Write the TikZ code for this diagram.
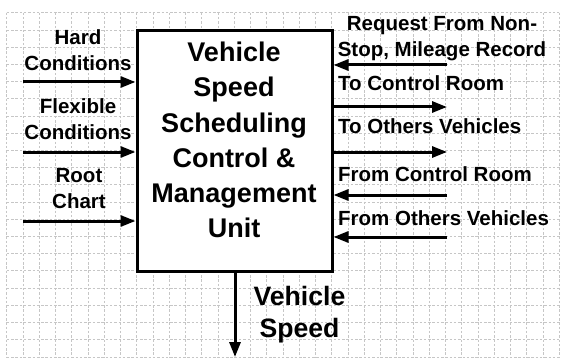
\documentclass[tikz,border=0pt]{standalone}
\usepackage{fontspec}
\setmainfont{Liberation Sans}
\usetikzlibrary{arrows.meta}

\tikzset{
  gridline/.style={gray!45, line width=0.8pt, dash pattern=on 2.5pt off 1.8pt},
  flow/.style={line width=3pt, -{Triangle[length=15pt,width=11pt]}},
  lbl/.style={font=\bfseries\fontsize{20.5}{26}\selectfont, inner sep=0pt, align=center},
  biglbl/.style={font=\bfseries\fontsize{27}{35.3}\selectfont, inner sep=0pt, align=center},
  unitbox/.style={draw, fill=white, line width=3pt, minimum width=195pt, minimum height=240pt, inner sep=0pt}
}

\begin{document}
\begin{tikzpicture}[x=1pt,y=-1pt]
			\useasboundingbox (0,0) rectangle (561,358);
			\foreach \i in {0,...,34}
				\draw[gridline] (6.7+16.25*\i,12.7) -- (6.7+16.25*\i,357);
			\foreach \j in {0,...,20}
				\draw[gridline] (6.7,12.7+17.21*\j) -- (559.2,12.7+17.21*\j);

			\node[unitbox] (unit) at (234.5,151) {};
			\node[biglbl] (unittext) at (234,140) {Vehicle\\Speed\\Scheduling\\Control \&\\Management\\Unit};

			\node[lbl] (hard) at (78,50) {Hard\\Conditions};
			\node[lbl] (flex) at (78,119) {Flexible\\Conditions};
			\node[lbl] (root) at (79,189) {Root\\Chart};
			\coordinate (hardin) at (23,82);
			\coordinate (flexin) at (23,152);
			\coordinate (rootin) at (23,221);
			\draw[flow] (hardin) -- (hardin -| unit.west);
			\draw[flow] (flexin) -- (flexin -| unit.west);
			\draw[flow] (rootin) -- (rootin -| unit.west);

			\node[lbl] (request) at (442,39) {Request From Non-\\Stop, Mileage Record};
			\node[lbl, anchor=base west] (tocr) at (338,91) {To Control Room};
			\node[lbl, anchor=base west] (toov) at (338,133.5) {To Others Vehicles};
			\node[lbl, anchor=base west] (fromcr) at (338,181.5) {From Control Room};
			\node[lbl, anchor=base west] (fromov) at (338,225.5) {From Others Vehicles};
			\coordinate (requestin) at (447,65);
			\coordinate (tocrout) at (447,107);
			\coordinate (toovout) at (447,152);
			\coordinate (fromcrin) at (447,195);
			\coordinate (fromovin) at (447,237);
			\draw[flow] (requestin) -- (requestin -| unit.east);
			\draw[flow] (tocrout -| unit.east) -- (tocrout);
			\draw[flow] (toovout -| unit.east) -- (toovout);
			\draw[flow] (fromcrin) -- (fromcrin -| unit.east);
			\draw[flow] (fromovin) -- (fromovin -| unit.east);

			\coordinate (speedout) at (235,357);
			\draw[flow] (speedout |- unit.south) -- (speedout);
			\node[lbl, font=\bfseries\fontsize{26.6}{32.7}\selectfont] (speed) at (299.5,314.5) {Vehicle\\Speed};
\end{tikzpicture}
\end{document}
